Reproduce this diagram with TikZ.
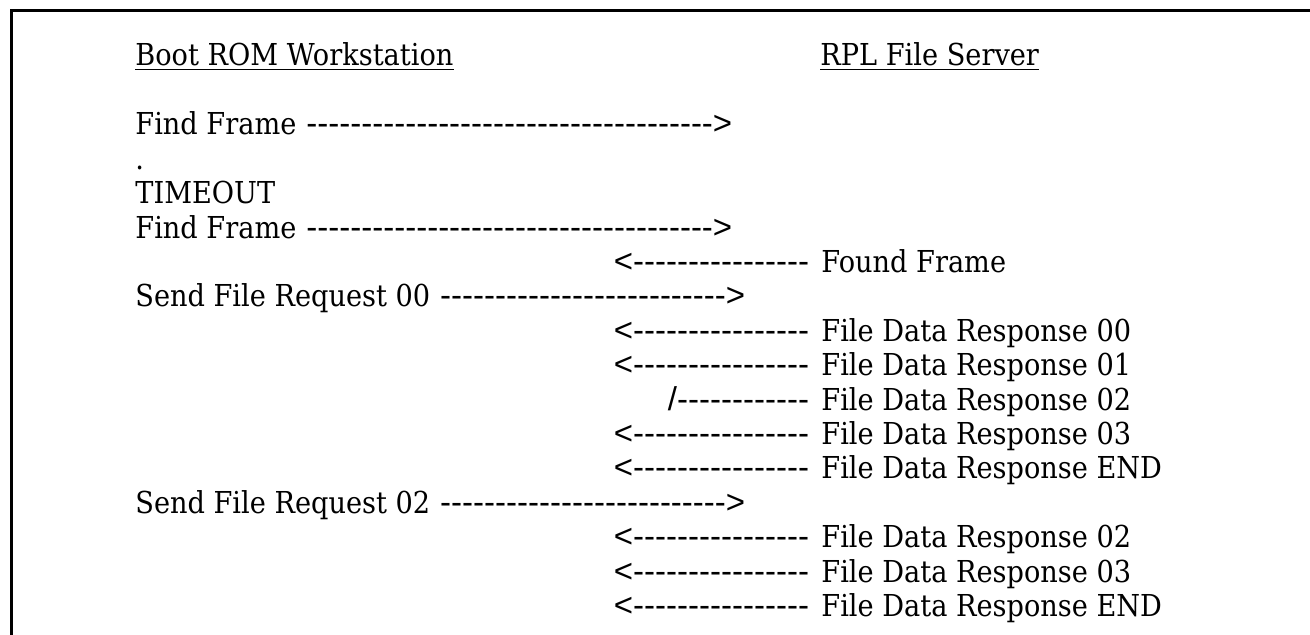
\documentclass[tikz,border=0pt]{standalone}
\usepackage{fontspec}
\newfontfamily\mainf[FakeStretch=0.9]{DejaVu Serif}
\newfontfamily\dashf[Ligatures=TeXOff]{Liberation Sans}
\ExplSyntaxOn
\NewDocumentCommand\dashes{m}{\prg_replicate:nn{#1}{-}}
\ExplSyntaxOff
\newcommand\gapsp{\kern5.8pt}
\begin{document}
\begin{tikzpicture}[x=0.5pt,y=-0.5pt,
  lbl/.style={inner sep=0pt, anchor=base west, font=\mainf\fontsize{15.1}{17.2}\selectfont},
  arr/.style={inner sep=0pt, font=\dashf\fontsize{16.5}{17.2}\selectfont},
  rarr/.style={arr, anchor=base west},
  larr/.style={arr, anchor=base east},
  frameline/.style={line width=1.35pt},
  ul/.style={line width=0.8pt}]
\useasboundingbox (0,0) rectangle (1310,635);
\coordinate (bl) at (11.3,640);
\coordinate (tl) at (11.3,10.3);
\coordinate (tr) at (1315,10.3);
\draw[frameline] (bl) -- (tl) -- (tr);
% headers
\node[lbl] (h1) at (135,66) {Boot ROM Workstation};
\node[lbl] (h2) at (820,66) {RPL File Server};
\draw[ul] ([yshift=-1.8pt]h1.base west) -- ([yshift=-1.8pt]h1.base east);
\draw[ul] ([yshift=-1.8pt]h2.base west) -- ([yshift=-1.8pt]h2.base east);
% left column
\node[lbl] (l0) at (135,135) {Find Frame};
\node[rarr] (a0) at (l0.base east) {\ \dashes{37}>};
\node[lbl] (l1) at (135,169.4) {.};
\node[lbl] (l2) at (135,203.8) {TIMEOUT};
\node[lbl] (l3) at (135,238.2) {Find Frame};
\node[rarr] (a3) at (l3.base east) {\ \dashes{37}>};
\node[lbl] (l5) at (135,307) {Send File Request 00};
\node[rarr] (a5) at (l5.base east) {\ \dashes{26}>};
\node[lbl] (l11) at (135,513.4) {Send File Request 02};
\node[rarr] (a11) at (l11.base east) {\ \dashes{26}>};
% right column
\node[lbl] (r4) at (821,272.6) {Found Frame};
\node[larr] (b4) at (r4.base west) {<\dashes{16}\gapsp};
\node[lbl] (r6) at (821,341.4) {File Data Response 00};
\node[larr] (b6) at (r6.base west) {<\dashes{16}\gapsp};
\node[lbl] (r7) at (821,375.8) {File Data Response 01};
\node[larr] (b7) at (r7.base west) {<\dashes{16}\gapsp};
\node[lbl] (r8) at (821,410.2) {File Data Response 02};
\node[larr] (b8) at (r8.base west) {/\dashes{12}\gapsp};
\node[lbl] (r9) at (821,444.6) {File Data Response 03};
\node[larr] (b9) at (r9.base west) {<\dashes{16}\gapsp};
\node[lbl] (r10) at (821,479) {File Data Response END};
\node[larr] (b10) at (r10.base west) {<\dashes{16}\gapsp};
\node[lbl] (r12) at (821,547.8) {File Data Response 02};
\node[larr] (b12) at (r12.base west) {<\dashes{16}\gapsp};
\node[lbl] (r13) at (821,582.2) {File Data Response 03};
\node[larr] (b13) at (r13.base west) {<\dashes{16}\gapsp};
\node[lbl] (r14) at (821,616.6) {File Data Response END};
\node[larr] (b14) at (r14.base west) {<\dashes{16}\gapsp};
\end{tikzpicture}
\end{document}
